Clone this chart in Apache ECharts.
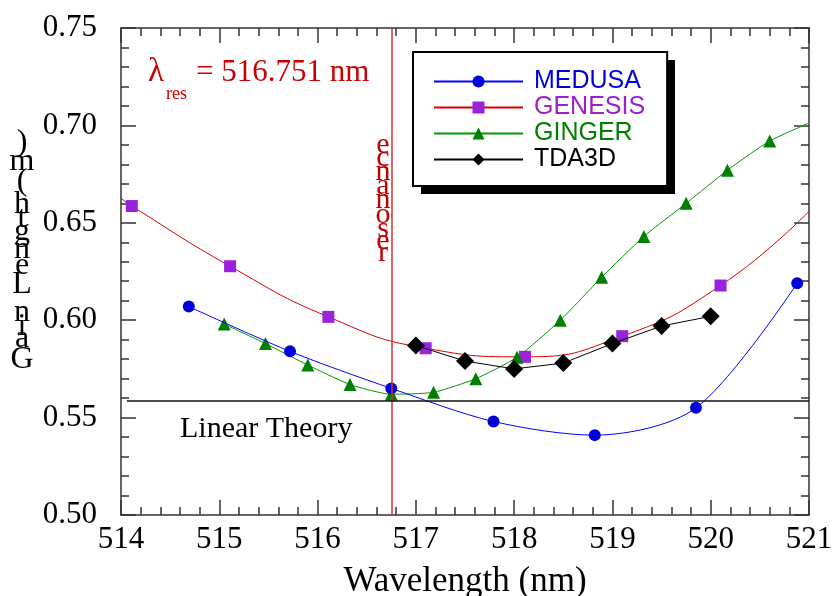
<!DOCTYPE html>
<html>
<head>
<meta charset="utf-8">
<script src="https://cdn.jsdelivr.net/npm/echarts@6/dist/echarts.min.js"></script>
<style>
  html, body { margin: 0; padding: 0; background: #fff; }
  #chart { width: 833px; height: 596px; }
</style>
</head>
<body>
<div id="chart"></div>
<script>
// values
var resonanceWl = 516.751;
var linearTheory = 0.5586;

var medusaX = [514.69, 515.72, 516.75, 517.79, 518.82, 519.85, 520.88];
var medusaY = [0.607, 0.584, 0.565, 0.548, 0.541, 0.555, 0.619];

var genesisX = [514.11, 515.11, 516.11, 517.10, 518.11, 519.10, 520.10];
var genesisY = [0.6586, 0.6277, 0.6017, 0.5856, 0.5812, 0.5918, 0.6178];
var genesisFitEnds = [[514.0, 0.6626], [521.0, 0.6559]]; // fitted curve runs edge to edge

var gingerX = [515.05, 515.47, 515.90, 516.33, 516.75, 517.18, 517.61, 518.03, 518.47, 518.89, 519.32, 519.75, 520.17, 520.60];
var gingerY = [0.598, 0.588, 0.577, 0.567, 0.562, 0.563, 0.570, 0.581, 0.600, 0.622, 0.643, 0.660, 0.677, 0.692];
var gingerEnd = [521.0, 0.7012];

var tdaX = [517.0, 517.5, 518.0, 518.5, 519.0, 519.5, 520.0];
var tdaY = [0.587, 0.579, 0.575, 0.578, 0.588, 0.597, 0.602];

var seriesNames = ['MEDUSA', 'GENESIS', 'GINGER', 'TDA3D'];
var legendTextColors = ['#0000dd', '#9922cc', '#008000', '#000000'];

function pairs(xs, ys) {
    return xs.map(function(x, i) { return [x, ys[i]]; });
}

var serif = '"Liberation Serif", "Times New Roman", serif';

// upright glyphs stacked bottom-to-top, spaced by their own advance width
var measureCtx = document.createElement('canvas').getContext('2d');
function stackGlyphs(text, cx, yBottom, size, pxPerEm, color) {
    measureCtx.font = size + 'px ' + serif;
    var out = [];
    var cum = 0;
    for (var i = 0; i < text.length; i++) {
        var ch = text[i];
        var em = measureCtx.measureText(ch).width / size;
        if (ch !== ' ') {
            out.push({
                type: 'text',
                x: cx,
                y: yBottom - (cum + em / 2) * pxPerEm,
                z: 50,
                style: {
                    text: ch,
                    font: size + 'px ' + serif,
                    fill: color,
                    align: 'center',
                    verticalAlign: 'middle'
                }
            });
        }
        cum += em;
    }
    return out;
}

var axisCol = '#333';
var tickStyle = { color: axisCol, width: 1.5 };

function frameAxis(pos, extra) {
    var a = {
        type: 'value',
        position: pos,
        axisLine: { show: true, onZero: false, lineStyle: { color: axisCol, width: 1.5 } },
        axisTick: { show: true, inside: true, length: 15, lineStyle: tickStyle },
        minorTick: { show: true, splitNumber: 5, length: 8, lineStyle: tickStyle },
        splitLine: { show: false },
        axisLabel: { show: false }
    };
    return Object.assign(a, extra);
}

var chart = echarts.init(document.getElementById('chart'));

var graphics = [
    // legend drop shadow
    { type: 'rect', z: 1, shape: { x: 421, y: 60, width: 254, height: 134 }, style: { fill: '#000' } },
    { type: 'text', x: 148, y: 72, z: 50,
      style: { text: 'λ', font: '33px ' + serif, fill: '#cc0000', verticalAlign: 'middle' } },
    { type: 'text', x: 166, y: 94, z: 50,
      style: { text: 'res', font: '18px ' + serif, fill: '#cc0000', verticalAlign: 'middle' } },
    { type: 'text', x: 196, y: 73, z: 50,
      style: { text: '= 516.751 nm', font: '31px ' + serif, fill: '#cc0000', verticalAlign: 'middle' } },
    { type: 'text', x: 180, y: 429, z: 50,
      style: { text: 'Linear Theory', font: '30px ' + serif, fill: '#000', verticalAlign: 'middle' } }
].concat(stackGlyphs('Gain Length (m)', 22, 372, 32, 35, '#000'))
 .concat(stackGlyphs('resonance', 383, 258, 30, 30, '#c00000'));

var option = {
    animation: false,
    backgroundColor: '#fff',
    grid: { left: 121, right: 24, top: 28, bottom: 81, containLabel: false, outerBoundsMode: 'none' },
    legend: {
        orient: 'vertical',
        left: 413,
        top: 52,
        z: 10,
        padding: [17, 22, 14, 20],
        itemWidth: 89,
        itemHeight: 15,
        itemGap: 1,
        backgroundColor: '#fff',
        borderColor: '#000',
        borderWidth: 2,
        borderRadius: 0,
        textStyle: {
            fontFamily: '"Liberation Sans", Arial, sans-serif',
            fontSize: 25,
            padding: [0, 0, 0, 6]
        },
        data: seriesNames.map(function(n, i) {
            return { name: n, textStyle: { color: legendTextColors[i] } };
        })
    },
    xAxis: [
        frameAxis('bottom', {
            min: 514, max: 521, interval: 1,
            name: 'Wavelength (nm)',
            nameLocation: 'middle',
            nameGap: 49,
            nameTextStyle: { fontFamily: serif, fontSize: 35, color: '#000' },
            axisLabel: { show: true, margin: 9, fontFamily: serif, fontSize: 31, color: '#000' }
        }),
        frameAxis('top', { min: 514, max: 521, interval: 1 })
    ],
    yAxis: [
        frameAxis('left', {
            min: 0.5, max: 0.75, interval: 0.05,
            axisLabel: {
                show: true, margin: 24, fontFamily: serif, fontSize: 31, color: '#000',
                formatter: function(v) { return v.toFixed(2); }
            }
        }),
        frameAxis('right', { min: 0.5, max: 0.75, interval: 0.05 })
    ],
    graphic: graphics,
    series: [
        {
            name: 'MEDUSA',
            type: 'line',
            smooth: 0.3,
            symbol: 'circle',
            symbolSize: 12,
            lineStyle: { color: '#0000ff', width: 1 },
            itemStyle: { color: '#0000dd' },
            data: pairs(medusaX, medusaY),
            z: 4,
            markLine: {
                silent: true,
                symbol: 'none',
                label: { show: false },
                data: [
                    [{ coord: [resonanceWl, 0.5], lineStyle: { color: '#cc3333', width: 1.5, type: 'solid' } },
                     { coord: [resonanceWl, 0.75] }],
                    [{ coord: [514.06, linearTheory], lineStyle: { color: '#111', width: 1.5, type: 'solid' } },
                     { coord: [521, linearTheory] }]
                ]
            }
        },
        {
            name: 'GENESIS',
            type: 'line',
            smooth: 0.5,
            symbol: 'rect',
            symbolSize: 12,
            lineStyle: { color: '#dd0000', width: 1 },
            itemStyle: { color: '#9922dd' },
            data: [{ value: genesisFitEnds[0], symbol: 'none' }]
                .concat(pairs(genesisX, genesisY))
                .concat([{ value: genesisFitEnds[1], symbol: 'none' }]),
            z: 3
        },
        {
            name: 'GINGER',
            type: 'line',
            smooth: 0.2,
            symbol: 'triangle',
            symbolSize: 13,
            lineStyle: { color: '#009900', width: 1 },
            itemStyle: { color: '#008000' },
            data: pairs(gingerX, gingerY).concat([{ value: gingerEnd, symbol: 'none' }]),
            z: 3
        },
        {
            name: 'TDA3D',
            type: 'line',
            smooth: false,
            symbol: 'diamond',
            symbolSize: 18,
            lineStyle: { color: '#000', width: 1 },
            itemStyle: { color: '#000' },
            data: pairs(tdaX, tdaY),
            z: 5
        }
    ]
};

chart.setOption(option);
</script>
</body>
</html>
